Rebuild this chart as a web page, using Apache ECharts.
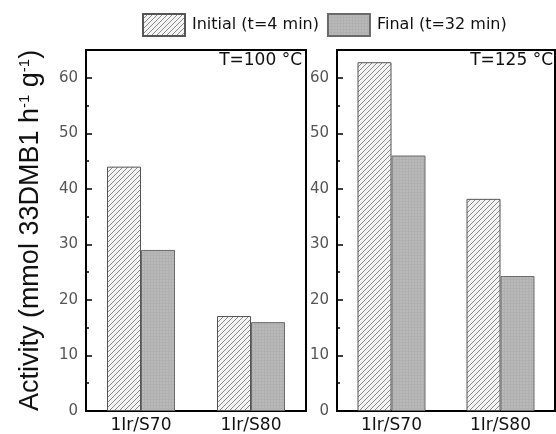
<!DOCTYPE html>
<html>
<head>
<meta charset="utf-8">
<script src="https://cdn.jsdelivr.net/npm/echarts@6/dist/echarts.min.js"></script>
<style>html,body{margin:0;padding:0;background:#fff}#c{width:556px;height:434px}</style>
</head>
<body>
<div id="c"></div>
<script>
const categories = ['1Ir/S70', '1Ir/S80'];
const initial100 = [44, 17.1];
const final100 = [29, 16];
const initial125 = [62.8, 38.2];
const final125 = [46, 24.3];
const yTicks = [0, 65, 10];
const seriesNames = ['Initial (t=4 min)', 'Final (t=32 min)'];
const panelLabels = ['T=100 °C', 'T=125 °C'];

function hatch() {
  const c = document.createElement('canvas');
  c.width = 5; c.height = 5;
  const g = c.getContext('2d');
  g.fillStyle = '#f4f4f4'; g.fillRect(0, 0, 5, 5);
  g.strokeStyle = '#8a8a8a'; g.lineWidth = 1;
  g.beginPath();
  g.moveTo(-1, 6); g.lineTo(6, -1);
  g.moveTo(-1, 1); g.lineTo(1, -1);
  g.moveTo(4, 6); g.lineTo(6, 4);
  g.stroke();
  return c;
}
function grid() {
  const c = document.createElement('canvas');
  c.width = 3; c.height = 3;
  const g = c.getContext('2d');
  g.fillStyle = '#b9b9b9'; g.fillRect(0, 0, 3, 3);
  g.fillStyle = '#b0b0b0'; g.fillRect(0, 0, 3, 1); g.fillRect(0, 0, 1, 3);
  return c;
}
const hatchStyle = { color: { image: hatch(), repeat: 'repeat' }, borderColor: '#555', borderWidth: 1 };
const gridStyle = { color: { image: grid(), repeat: 'repeat' }, borderColor: '#6a6a6a', borderWidth: 1 };

const font = 'DejaVu Sans, sans-serif';
const nameFont = 'Liberation Sans, Arial, sans-serif';
const chart = echarts.init(document.getElementById('c'), null, { renderer: 'canvas' });

function xAxis(idx) {
  return {
    type: 'category', gridIndex: idx, data: categories,
    axisLine: { lineStyle: { color: '#000', width: 2 } },
    axisTick: { inside: true, alignWithLabel: true, length: 4, lineStyle: { color: '#000', width: 1.5 } },
    axisLabel: { color: '#111', fontSize: 17, fontFamily: font, margin: 6 }
  };
}
function yAxis(idx, withName) {
  const a = {
    type: 'value', gridIndex: idx, min: yTicks[0], max: yTicks[1], interval: yTicks[2],
    axisLine: { show: true, lineStyle: { color: '#000', width: 2 } },
    axisTick: { show: true, inside: true, length: 6, lineStyle: { color: '#000', width: 1.5 } },
    minorTick: { show: true, splitNumber: 2, length: 3, lineStyle: { color: '#000', width: 1.5 } },
    splitLine: { show: false },
    axisLabel: { color: '#555', fontSize: 15, fontFamily: font, margin: 8,
      formatter: v => (v % 10 === 0 && v <= 60) ? String(v) : '' }
  };
  if (withName) {
    a.name = '{n|Activity (mmol 33DMB1 h}{s|-1}{n| g}{s|-1}{n|)}';
    a.nameLocation = 'middle';
    a.nameRotate = 90;
    a.nameGap = 41;
    a.nameTextStyle = { rich: {
      n: { fontSize: 27, fontFamily: nameFont, color: '#111' },
      s: { fontSize: 15, fontFamily: nameFont, color: '#111', verticalAlign: 'top', padding: [0, 0, 13, 0] }
    } };
  }
  return a;
}
function bar(name, data, idx, style) {
  return { name: name, type: 'bar', xAxisIndex: idx, yAxisIndex: idx, data: data,
    barWidth: 34, barGap: '0%', itemStyle: style, emphasis: { disabled: true } };
}

chart.setOption({
  animation: false,
  legend: {
    data: seriesNames, left: 142, top: 13, padding: 0, icon: 'rect',
    itemWidth: 42, itemHeight: 22, itemGap: 8,
    textStyle: { fontSize: 16, fontFamily: font, color: '#111', padding: [0, 0, 0, 2] }
  },
  grid: [
    { left: 86, top: 50, width: 220, height: 361, show: true, borderColor: '#000', borderWidth: 2 },
    { left: 337, top: 50, width: 218, height: 361, show: true, borderColor: '#000', borderWidth: 2 }
  ],
  xAxis: [xAxis(0), xAxis(1)],
  yAxis: [yAxis(0, true), yAxis(1, false)],
  series: [
    bar(seriesNames[0], initial100, 0, hatchStyle),
    bar(seriesNames[1], final100, 0, gridStyle),
    bar(seriesNames[0], initial125, 1, hatchStyle),
    bar(seriesNames[1], final125, 1, gridStyle)
  ],
  graphic: [
    { type: 'text', right: 556 - 302, top: 52, style: { text: panelLabels[0], fontSize: 17, fontFamily: font, fill: '#111' } },
    { type: 'text', right: 3, top: 52, style: { text: panelLabels[1], fontSize: 17, fontFamily: font, fill: '#111' } }
  ]
});
</script>
</body>
</html>
